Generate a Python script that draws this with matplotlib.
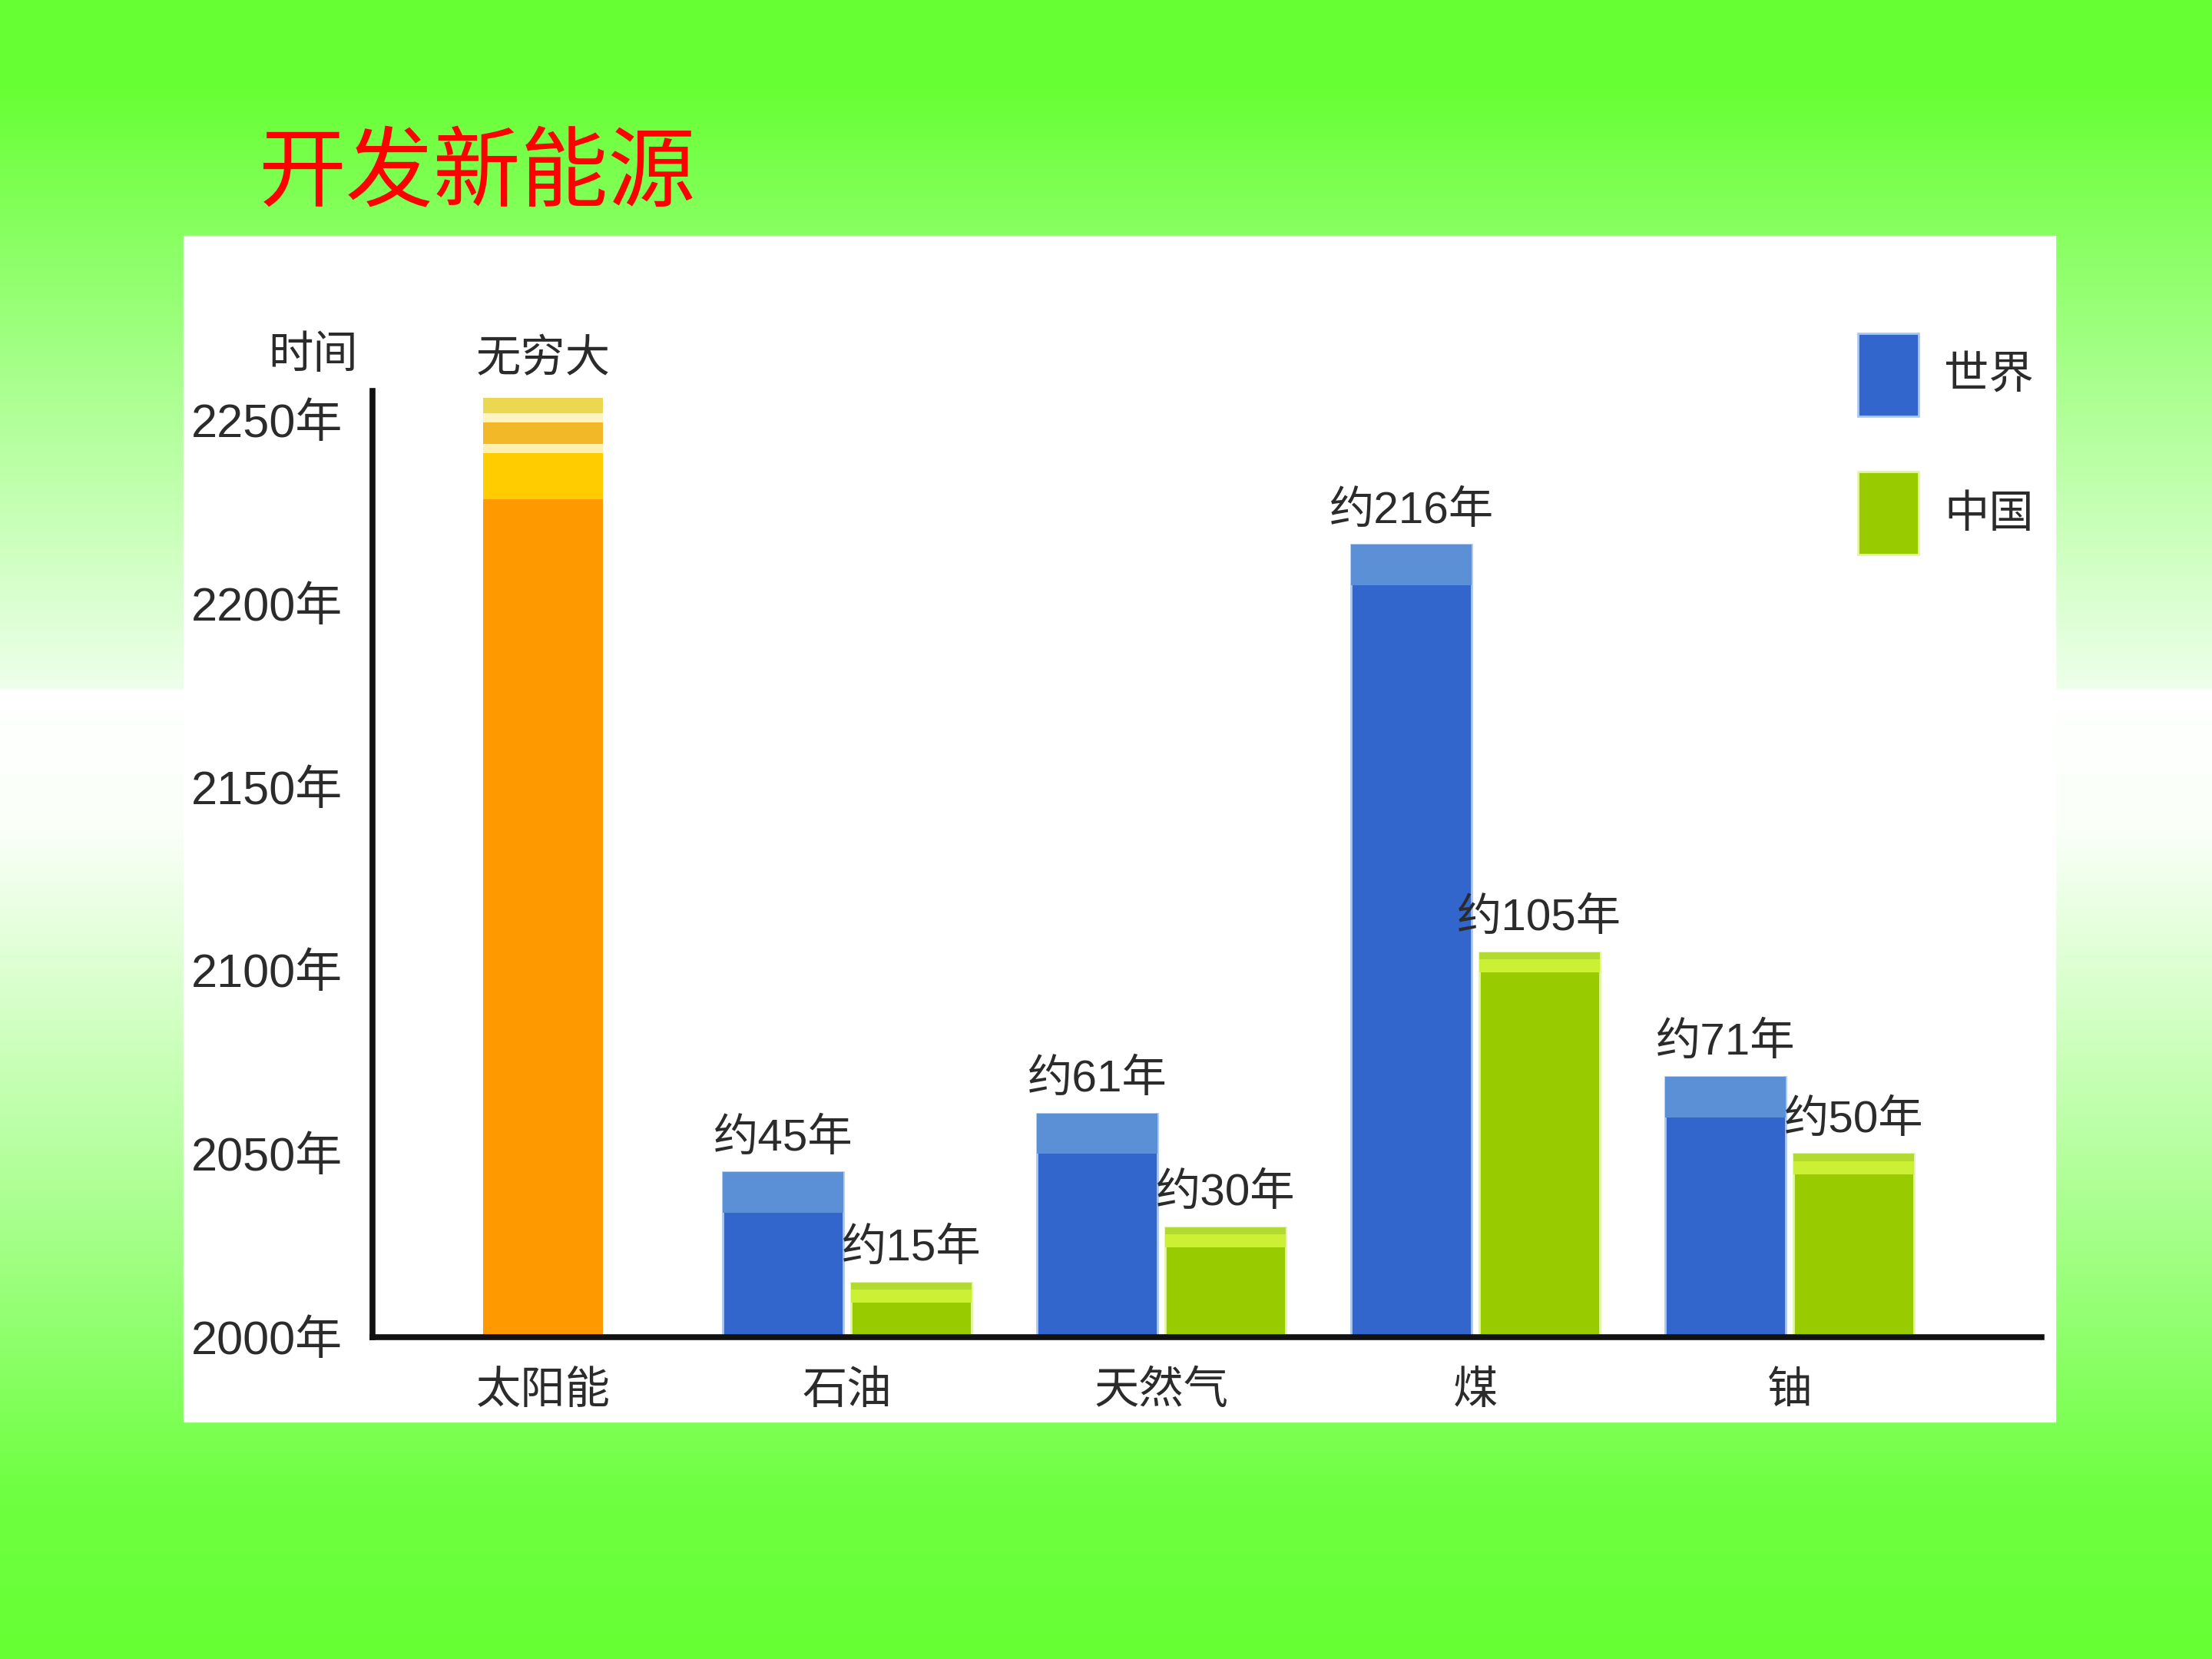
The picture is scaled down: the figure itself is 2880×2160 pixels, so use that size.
import numpy as np
import matplotlib
matplotlib.use("Agg")
import matplotlib.pyplot as plt
from matplotlib.patches import Rectangle, Patch
from matplotlib import font_manager

# ---- data ----
categories = ["太阳能", "石油", "天然气", "煤", "铀"]
world_years = [45, 61, 216, 71]      # 石油, 天然气, 煤, 铀
china_years = [15, 30, 105, 50]
world_labels = ["约45年", "约61年", "约216年", "约71年"]
china_labels = ["约15年", "约30年", "约105年", "约50年"]
solar_label = "无穷大"
solar_top = 2256          # bar runs to the top of the axis ("infinite")
start_year = 2000
year_ticks = [2000, 2050, 2100, 2150, 2200, 2250]
legend_names = ["世界", "中国"]

# ---- fonts ----
installed = {f.name for f in font_manager.fontManager.ttflist}
narrow = "Liberation Sans Narrow" if "Liberation Sans Narrow" in installed else "Liberation Sans"
cjk = "Noto Sans CJK SC"
plt.rcParams["font.family"] = [narrow, cjk]

BLUE = "#3366cc"
BLUE_TOP = "#5b8fd6"
GREEN = "#99cc00"
GREEN_TOP = "#ccf033"
ORANGE = "#ff9900"
TEXT = "#2b2b2b"

fig = plt.figure(figsize=(28.8, 21.6), dpi=100)

# background gradient + white panel
bg = fig.add_axes([0, 0, 1, 1], zorder=-10)
f = np.linspace(0, 1, 1200)
stops = [0, 0.05, 0.415, 0.416, 0.5, 0.9, 1.0]
cols = np.array([[102, 255, 51], [102, 255, 51], [238, 255, 235], [255, 255, 255],
                 [250, 255, 248], [110, 255, 65], [102, 255, 51]]) / 255
grad = np.stack([np.interp(f, stops, cols[:, k]) for k in range(3)], axis=-1)
bg.imshow(grad[:, None, :], aspect="auto", extent=[0, 1, 0, 1], origin="upper")
bg.add_patch(Rectangle((239 / 2880, 1 - 1851 / 2160), (2676 - 239) / 2880,
                       (1851 - 307) / 2160, color="white"))
bg.set_xlim(0, 1)
bg.set_ylim(0, 1)
bg.axis("off")

fig.text(0.1167, 0.895, "开发新能源", color="#ff0000", fontsize=82,
         family=cjk, ha="left", va="center")

# chart
ax = fig.add_axes([0.1684, 0.1939, 0.7544, 0.5706], facecolor="none")
x = np.arange(len(categories), dtype=float)
x[1:] -= 0.032            # solar column sits a little closer to the rest
w = 0.382
off = 0.204

# solar bar with layered top
ax.bar(x[0], solar_top - start_year, w, bottom=start_year, color=ORANGE, zorder=2)
bands = [(4.2, "#ecd850"), (2.5, "#fff4c0"), (5.8, "#f2b828"), (2.5, "#fff0b0"), (12.6, "#ffcc00")]
b_top = solar_top
for h, c in bands:
    ax.bar(x[0], h, w, bottom=b_top - h, color=c, zorder=3)
    b_top -= h
ax.annotate(solar_label, (x[0], solar_top), xytext=(0, 14), textcoords="offset points",
            ha="center", va="bottom", fontsize=42, color=TEXT, family=cjk)

xw = x[1:] - off
xc = x[1:] + off
w_end = np.array(world_years) + start_year
c_end = np.array(china_years) + start_year
ax.bar(xw, world_years, w, bottom=start_year, color=BLUE, edgecolor="#a9c8f0",
       linewidth=2, zorder=2)
ax.bar(xw, 11, w, bottom=w_end - 11, color=BLUE_TOP, zorder=3)
ax.bar(xc, china_years, w, bottom=start_year, color=GREEN, edgecolor="#e4f5a0",
       linewidth=2, zorder=2)
ax.bar(xc, 2, w, bottom=c_end - 2, color="#b3da30", zorder=3)
ax.bar(xc, 3.5, w, bottom=c_end - 5.5, color=GREEN_TOP, zorder=3)

for xi, v, lab in zip(xw, w_end, world_labels):
    ax.annotate(lab, (xi, v), xytext=(0, 12), textcoords="offset points",
                ha="center", va="bottom", fontsize=42, color=TEXT)
for xi, v, lab in zip(xc, c_end, china_labels):
    ax.annotate(lab, (xi, v), xytext=(0, 12), textcoords="offset points",
                ha="center", va="bottom", fontsize=42, color=TEXT)

ax.set_xlim(-0.543, 4.769)
ax.set_ylim(start_year, 2258)
ax.set_xticks(x)
ax.set_xticklabels(categories, fontsize=42, color=TEXT, family=cjk)
ax.set_yticks(year_ticks)
ax.set_yticklabels([f"{y}年" for y in year_ticks], fontsize=44, color=TEXT)
ax.tick_params(length=0)
ax.tick_params(axis="y", pad=28)
ax.tick_params(axis="x", pad=28)
for s in ["top", "right"]:
    ax.spines[s].set_visible(False)
for s in ["left", "bottom"]:
    ax.spines[s].set_linewidth(5.5)
    ax.spines[s].set_color("#111111")
    ax.spines[s].set_zorder(5)

fig.text(0.1416, 0.7857, "时间", fontsize=42, color=TEXT, family=cjk,
         ha="center", va="center")

handles = [Patch(facecolor=BLUE, edgecolor="#a9c8f0", linewidth=2),
           Patch(facecolor=GREEN, edgecolor="#e4f5a0", linewidth=2)]
leg = fig.legend(handles, legend_names, loc="upper left",
                 bbox_to_anchor=(0.8399, 0.7993), bbox_transform=fig.transFigure,
                 frameon=False, handlelength=1.36, handleheight=2.48,
                 labelspacing=1.24, handletextpad=0.57, borderpad=0, borderaxespad=0,
                 prop={"family": cjk, "size": 42})
for t in leg.get_texts():
    t.set_color(TEXT)

fig.savefig("out.png", dpi=100)
